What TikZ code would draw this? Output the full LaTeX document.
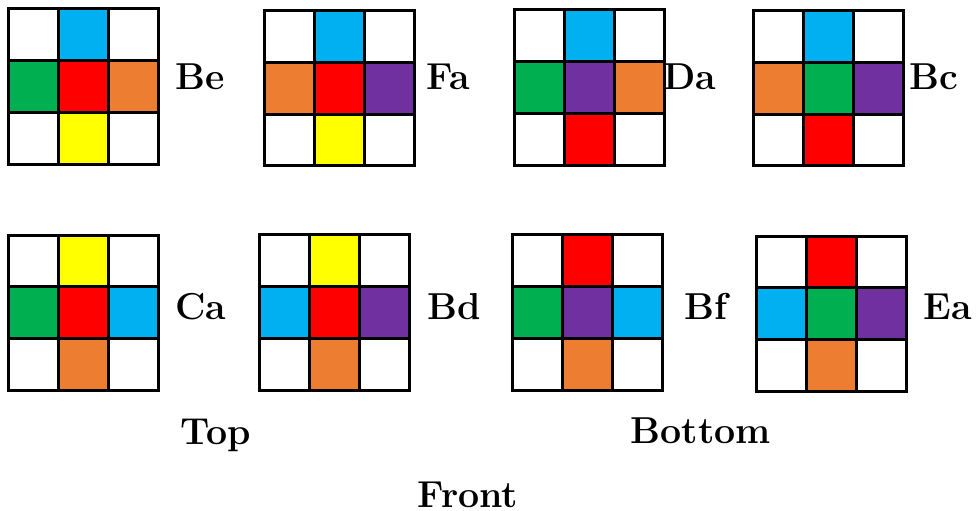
\documentclass[tikz,border=0pt]{standalone}
\usepackage{tikz}
\usetikzlibrary{positioning}

\definecolor{cblue}{HTML}{00B0F0}
\definecolor{cgreen}{HTML}{00B050}
\definecolor{cred}{HTML}{FF0000}
\definecolor{corange}{HTML}{ED7D31}
\definecolor{cyellow}{HTML}{FFFF00}
\definecolor{cpurple}{HTML}{7030A0}

% #1 name, #2 top left corner, #3 top, #4 left, #5 centre, #6 right, #7 bottom
\newcommand{\cubeface}[7]{%
\begin{scope}[shift={#2}]
\foreach \c/\r/\col in {0/0/white,1/0/#3,2/0/white,0/1/#4,1/1/#5,2/1/#6,0/2/white,1/2/#7,2/2/white}
  \draw[cell,fill=\col] (\c*50,\r*51.7) rectangle ++(50,51.7);
\coordinate (#1) at (75,77.5);
\end{scope}}

\begin{document}
\begin{tikzpicture}[x=0.4pt,y=-0.4pt,cell/.style={draw=black,line width=1.2pt},lbl/.style={anchor=base,font=\fontsize{15}{18}\selectfont\bfseries,inner sep=0pt}]
\useasboundingbox (0,0) rectangle (976,511);

\cubeface{be}{(8.3,9)}{cblue}{cgreen}{cred}{corange}{cyellow}
\cubeface{fa}{(264,10.7)}{cblue}{corange}{cred}{cpurple}{cyellow}
\cubeface{da}{(514,10)}{cblue}{cgreen}{cpurple}{corange}{cred}
\cubeface{bc}{(753.7,10.7)}{cblue}{corange}{cgreen}{cpurple}{cred}

\cubeface{ca}{(8.7,235.3)}{cyellow}{cgreen}{cred}{cblue}{corange}
\cubeface{bd}{(259.7,235)}{cyellow}{cblue}{cred}{cpurple}{corange}
\cubeface{bf}{(512,235)}{cred}{cgreen}{cpurple}{cblue}{corange}
\cubeface{ea}{(756.7,236.3)}{cred}{cblue}{cgreen}{cpurple}{corange}

\node[lbl] (be label) at (200,90) {Be};
\node[lbl] (fa label) at (448,90) {Fa};
\node[lbl] (da label) at (690,90) {Da};
\node[lbl] (bc label) at (934,90) {Bc};
\node[lbl] (ca label) at (201,319.5) {Ca};
\node[lbl] (bd label) at (454,319.5) {Bd};
\node[lbl] (bf label) at (706,320) {Bf};
\node[lbl] (ea label) at (948,320) {Ea};

\node[lbl] (top) at (216,444.5) {Top};
\node[lbl] (bottom) at (701,443.5) {Bottom};
\node[lbl] (front) at (468,507.3) {Front};
\end{tikzpicture}
\end{document}
